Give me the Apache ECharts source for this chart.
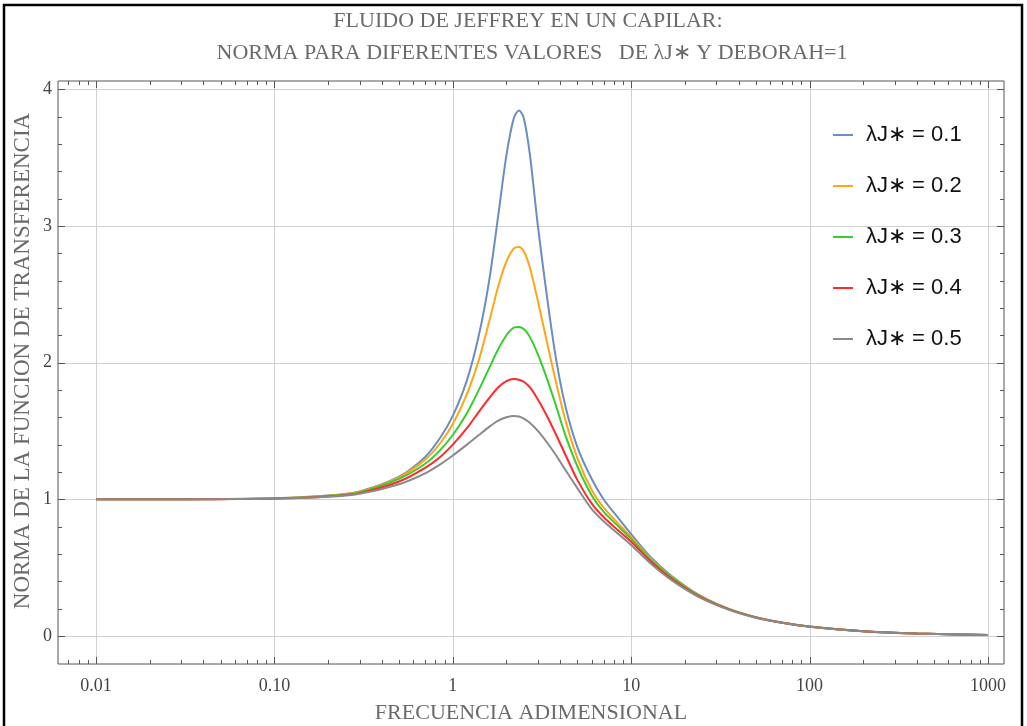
<!DOCTYPE html>
<html><head><meta charset="utf-8">
<script src="https://cdn.jsdelivr.net/npm/echarts@6/dist/echarts.min.js"></script>
<style>html,body{margin:0;padding:0;background:#fff}#c{width:1027px;height:726px}</style>
</head><body><div id="c"></div>
<script>
// ---------- data ----------
const freq = [0.01, 0.02, 0.05, 0.1, 0.2, 0.3, 0.5, 0.7, 0.85, 1, 1.2, 1.4, 1.6, 1.8, 2.0, 2.2, 2.35, 2.5, 2.7, 3.0, 3.4, 3.8, 4.3, 5, 6, 7, 8.5, 10, 13, 17, 24, 35, 50, 70, 100, 200, 400, 1000];
const seriesNames = ['λJ∗ = 0.1', 'λJ∗ = 0.2', 'λJ∗ = 0.3', 'λJ∗ = 0.4', 'λJ∗ = 0.5'];
const norm01 = [1.0, 1.0, 1.002, 1.007, 1.027, 1.058, 1.165, 1.31, 1.45, 1.61, 1.87, 2.2, 2.6, 3.08, 3.52, 3.79, 3.845, 3.79, 3.53, 3.0, 2.45, 2.02, 1.67, 1.38, 1.15, 1.0, 0.86, 0.745, 0.57, 0.435, 0.3, 0.2, 0.138, 0.099, 0.07, 0.035, 0.0175, 0.007];
const norm02 = [1.0, 1.0, 1.002, 1.007, 1.026, 1.055, 1.16, 1.29, 1.41, 1.55, 1.77, 2.02, 2.3, 2.56, 2.74, 2.835, 2.846, 2.815, 2.7, 2.45, 2.13, 1.85, 1.57, 1.3, 1.07, 0.94, 0.82, 0.725, 0.56, 0.43, 0.297, 0.199, 0.137, 0.098, 0.069, 0.035, 0.0175, 0.007];
const norm03 = [1.0, 1.0, 1.002, 1.006, 1.024, 1.05, 1.15, 1.26, 1.36, 1.47, 1.63, 1.8, 1.96, 2.1, 2.2, 2.255, 2.26, 2.245, 2.19, 2.06, 1.87, 1.68, 1.46, 1.24, 1.03, 0.91, 0.8, 0.71, 0.55, 0.425, 0.294, 0.198, 0.136, 0.097, 0.069, 0.035, 0.0175, 0.007];
const norm04 = [1.0, 1.0, 1.001, 1.005, 1.021, 1.045, 1.13, 1.23, 1.31, 1.4, 1.52, 1.64, 1.74, 1.82, 1.865, 1.88, 1.875, 1.86, 1.82, 1.73, 1.6, 1.47, 1.32, 1.14, 0.97, 0.87, 0.77, 0.69, 0.54, 0.415, 0.29, 0.196, 0.135, 0.097, 0.068, 0.035, 0.0175, 0.007];
const norm05 = [1.0, 1.0, 1.001, 1.005, 1.018, 1.04, 1.11, 1.19, 1.255, 1.32, 1.4, 1.47, 1.53, 1.575, 1.6, 1.61, 1.605, 1.59, 1.56, 1.5, 1.41, 1.32, 1.21, 1.08, 0.93, 0.84, 0.745, 0.665, 0.525, 0.405, 0.285, 0.194, 0.134, 0.096, 0.068, 0.034, 0.0175, 0.007];
const seriesValues = [norm01, norm02, norm03, norm04, norm05];
const seriesColors = ['#6a8dc3', '#ffa516', '#36cd2f', '#ff2a2a', '#8a8a8a'];

const xTickValues = [0.01, 0.1, 1, 10, 100, 1000];
const xTickLabels = ['0.01', '0.10', '1', '10', '100', '1000'];
const xMinorTicks = [0.007, 0.008, 0.009, 0.02, 0.03, 0.04, 0.05, 0.06, 0.07, 0.08, 0.09, 0.2, 0.3, 0.4, 0.5, 0.6, 0.7, 0.8, 0.9, 2, 3, 4, 5, 6, 7, 8, 9, 20, 30, 40, 50, 60, 70, 80, 90, 200, 300, 400, 500, 600, 700, 800, 900];
const yTickValues = [0, 1, 2, 3, 4];
const yTickLabels = ['0', '1', '2', '3', '4'];
const yMinorTicks = [0.2, 0.4, 0.6, 0.8, 1.2, 1.4, 1.6, 1.8, 2.2, 2.4, 2.6, 2.8, 3.2, 3.4, 3.6, 3.8];

const titleLines = ['FLUIDO DE JEFFREY EN UN CAPILAR:', 'NORMA PARA DIFERENTES VALORES   DE λJ∗ Y DEBORAH=1'];
const xAxisTitle = 'FRECUENCIA ADIMENSIONAL';
const yAxisTitle = 'NORMA DE LA FUNCION DE TRANSFERENCIA';

const X_MIN = Math.pow(10, -2.213), X_MAX = Math.pow(10, 3.09);
const Y_MIN = -0.205, Y_MAX = 4.06;

// ---------- build ----------
const chart = echarts.init(document.getElementById('c'), null, {renderer: 'canvas'});

// decoration items: [x, y, kind, major]; kind 0: x tick, 1: y tick, 2: vertical grid, 3: horizontal grid
const gridItems = [];
xTickValues.forEach(v => gridItems.push([v, 1, 2, 1]));
yTickValues.forEach(v => gridItems.push([1, v, 3, 1]));
const tickItems = [];
xTickValues.forEach(v => tickItems.push([v, 1, 0, 1]));
xMinorTicks.forEach(v => tickItems.push([v, 1, 0, 0]));
yTickValues.forEach(v => tickItems.push([1, v, 1, 1]));
yMinorTicks.forEach(v => tickItems.push([1, v, 1, 0]));

function px(v) { return Math.round(v) + 0.5; }
function renderDeco(params, api) {
  const cs = params.coordSys;
  const kind = api.value(2), major = api.value(3);
  const p = api.coord([api.value(0), api.value(1)]);
  const L = major ? 7 : 4;
  const left = cs.x, right = cs.x + cs.width, top = cs.y, bottom = cs.y + cs.height;
  let segs = [], stroke = '#555';
  if (kind === 0) { const x = px(p[0]); segs = [[x, bottom, x, bottom - L], [x, top, x, top + L]]; }
  else if (kind === 1) { const y = px(p[1]); segs = [[left, y, left + L, y], [right, y, right - L, y]]; }
  else if (kind === 2) { const x = px(p[0]); segs = [[x, top, x, bottom]]; stroke = '#cfcfcf'; }
  else { const y = px(p[1]); segs = [[left, y, right, y]]; stroke = '#cfcfcf'; }
  return { type: 'group', children: segs.map(s => ({
    type: 'line', shape: {x1: s[0], y1: s[1], x2: s[2], y2: s[3]},
    style: {stroke: stroke, lineWidth: 1}
  })) };
}

const lineSeries = seriesNames.map((name, i) => ({
  name: name, type: 'line', xAxisIndex: 0, yAxisIndex: 0,
  data: freq.map((f, k) => [f, seriesValues[i][k]]),
  showSymbol: false, smooth: 0.3, z: 5,
  lineStyle: {color: seriesColors[i], width: 2}, itemStyle: {color: seriesColors[i]}
}));

const serif = '"Liberation Serif", "Times New Roman", serif';

chart.setOption({
  animation: false,
  backgroundColor: '#fff',
  grid: {left: 58, right: 23, top: 81, bottom: 62, show: true, borderColor: '#555', borderWidth: 1, backgroundColor: 'transparent', z: 10},
  xAxis: {
    type: 'log', logBase: 10, min: X_MIN, max: X_MAX,
    axisLine: {show: false}, axisTick: {show: false}, splitLine: {show: false}, minorTick: {show: false},
    axisLabel: {
      showMinLabel: false, showMaxLabel: false, margin: 13,
      fontFamily: serif, fontSize: 18, color: '#444',
      formatter: v => { const i = Math.round(Math.log10(v)) + 2; return xTickLabels[i] !== undefined ? xTickLabels[i] : ''; }
    }
  },
  yAxis: {
    type: 'value', min: Y_MIN, max: Y_MAX,
    axisLine: {show: false}, axisTick: {show: false}, splitLine: {show: false},
    axisLabel: {
      showMinLabel: false, showMaxLabel: false, margin: 6,
      fontFamily: serif, fontSize: 18, color: '#444',
      formatter: v => { const i = yTickValues.indexOf(Math.round(v)); return (Math.abs(v - Math.round(v)) < 1e-6 && i >= 0) ? yTickLabels[i] : ''; }
    }
  },
  legend: {
    orient: 'vertical', left: 833, top: 124, padding: 0, itemWidth: 20, itemHeight: 2, itemGap: 29, icon: 'rect',
    data: seriesNames,
    textStyle: {fontFamily: '"Liberation Sans", Arial, sans-serif', fontSize: 22, color: '#111', padding: [0, 0, 0, 8]}
  },
  graphic: [
    {type: 'rect', shape: {x: 4, y: 5, width: 1018, height: 740}, style: {fill: 'none', stroke: '#000', lineWidth: 2.5}, silent: true},
    {type: 'text', x: 528, y: 21, style: {text: titleLines[0], font: '22px ' + serif, fill: '#6a6a6a', textAlign: 'center', textVerticalAlign: 'middle'}},
    {type: 'text', x: 532, y: 53, style: {text: titleLines[1], font: '22px ' + serif, fill: '#6a6a6a', textAlign: 'center', textVerticalAlign: 'middle'}},
    {type: 'text', x: 531, y: 713, style: {text: xAxisTitle, font: '22px ' + serif, fill: '#6a6a6a', textAlign: 'center', textVerticalAlign: 'middle'}},
    {type: 'text', x: 23, y: 361, rotation: Math.PI / 2, style: {text: yAxisTitle, font: '23px ' + serif, fill: '#6a6a6a', textAlign: 'center', textVerticalAlign: 'middle'}}
  ],
  series: [
    {type: 'custom', name: 'grid', renderItem: renderDeco, data: gridItems, z: 1, silent: true, clip: false, xAxisIndex: 0, yAxisIndex: 0},
    ...lineSeries,
    {type: 'custom', name: 'ticks', renderItem: renderDeco, data: tickItems, z: 11, silent: true, clip: false, xAxisIndex: 0, yAxisIndex: 0}
  ]
});
</script></body></html>
